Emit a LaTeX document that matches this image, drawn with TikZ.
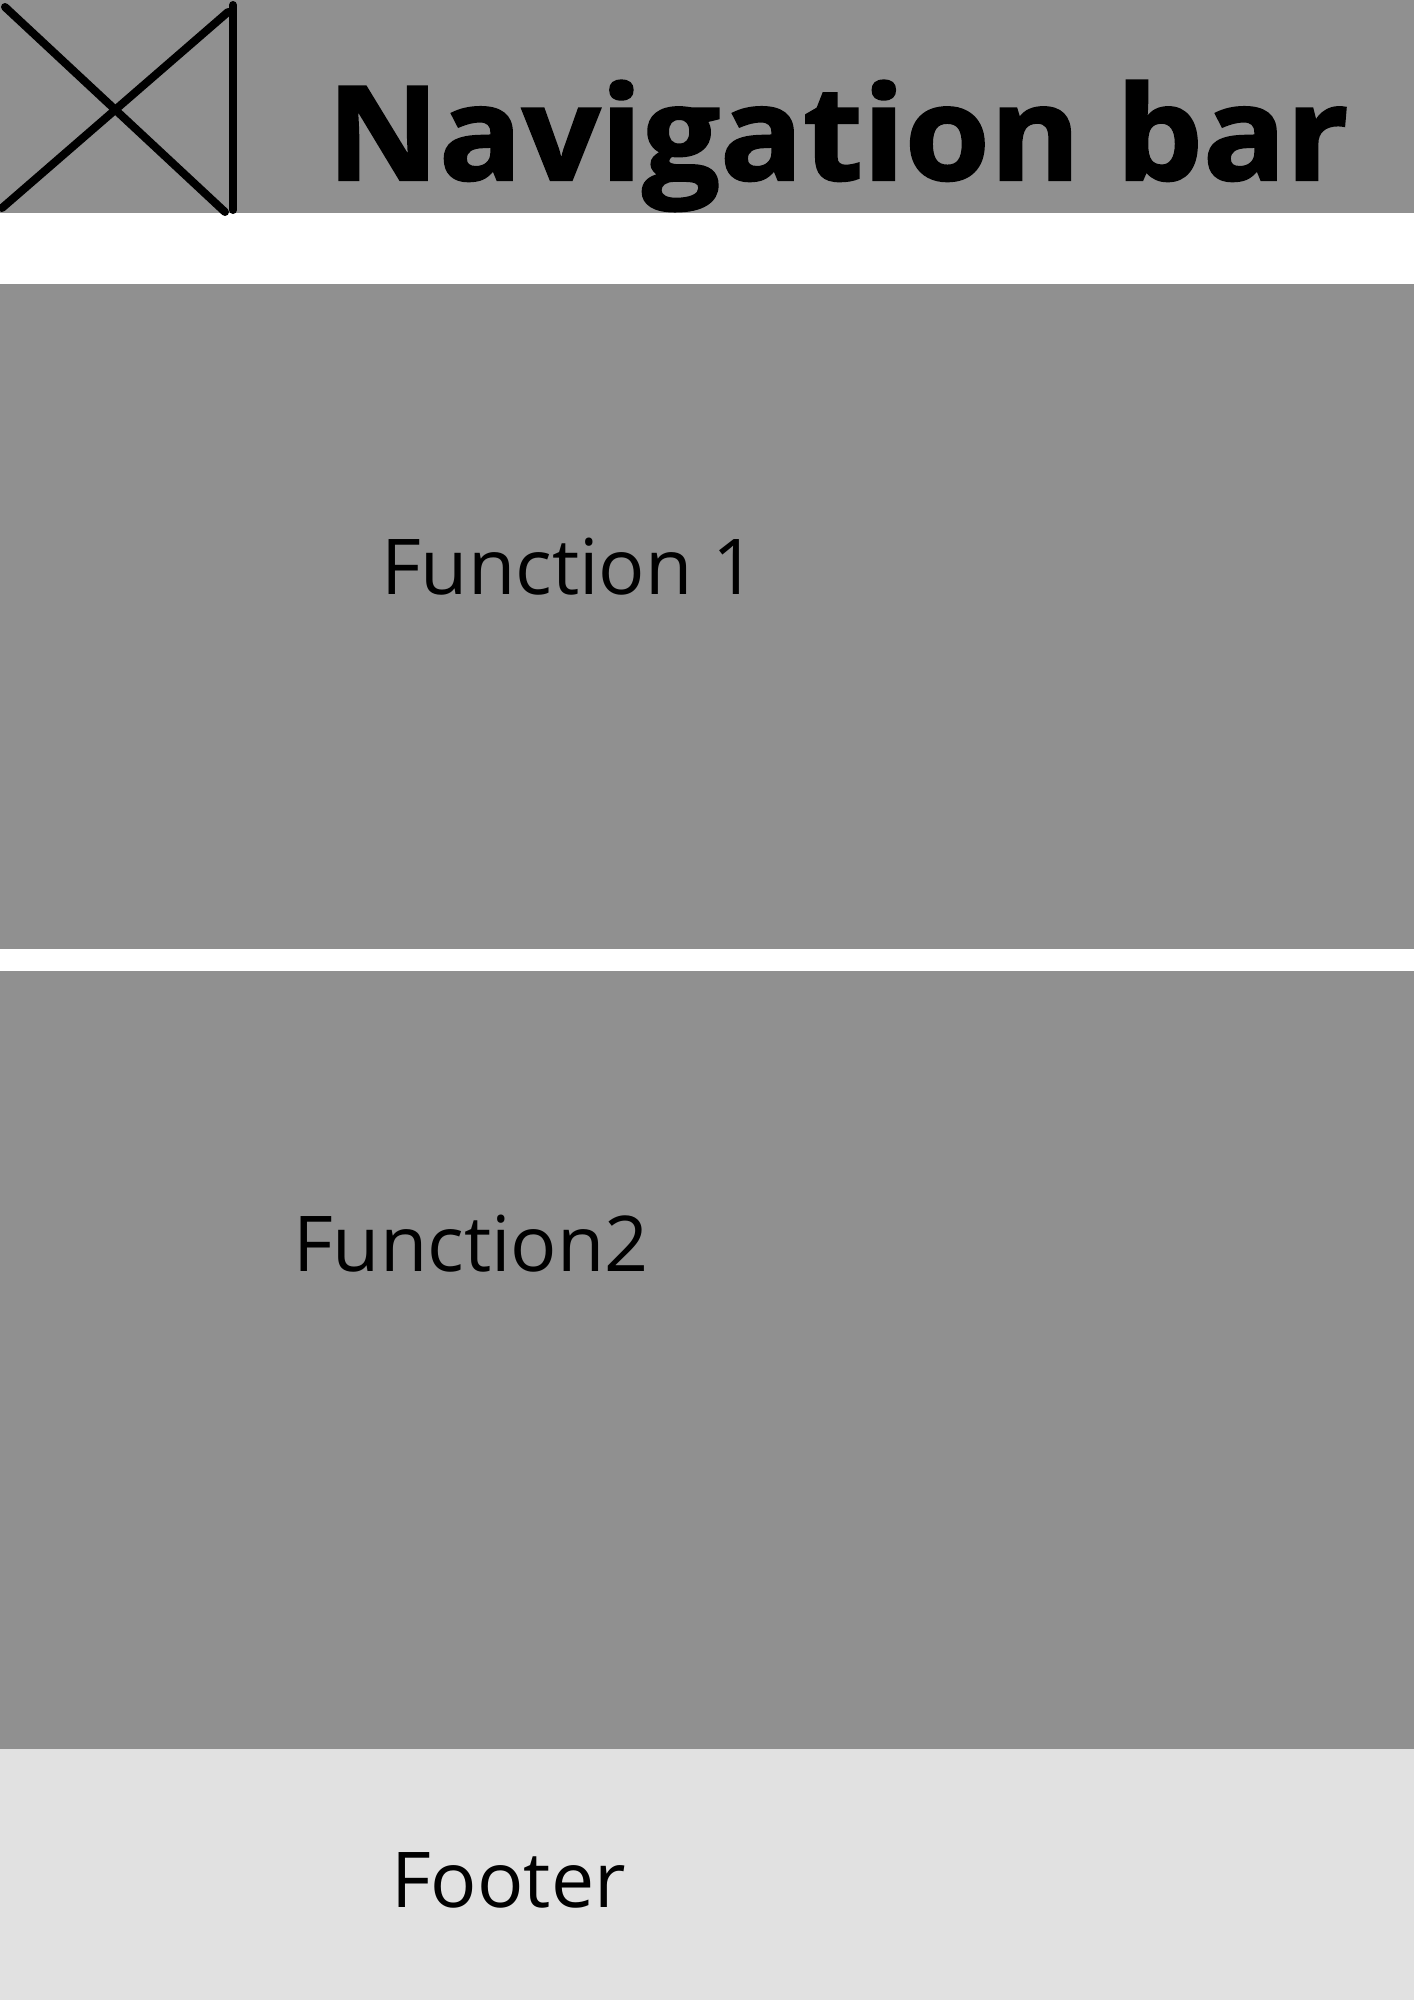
\documentclass[tikz,border=0pt]{standalone}
\usepackage{fontspec}
\setmainfont{Open Sans}
\definecolor{panel}{HTML}{909090}
\definecolor{foot}{HTML}{E1E1E1}
\begin{document}
\begin{tikzpicture}[x=1pt,y=-1pt,
  panelbox/.style={fill=panel, inner sep=0pt, anchor=north west, minimum width=1414pt},
  footbox/.style={fill=foot, inner sep=0pt, anchor=north west, minimum width=1414pt},
  iconline/.style={line width=8pt, line cap=round, black},
  title/.style={inner sep=0pt, anchor=base west, font=\fontsize{131}{140}\selectfont\bfseries\addfontfeature{FakeBold=1.6}},
  label/.style={inner sep=0pt, anchor=base west, font=\fontsize{77}{84}\selectfont}]
\useasboundingbox (0,0) rectangle (1414,2000);
\fill[white] (0,0) rectangle (1414,2000);
\node[panelbox, minimum height=213pt] (nav) at (0,0) {};
\node[panelbox, minimum height=665pt] (f1) at (0,284) {};
\node[panelbox, minimum height=778pt] (f2) at (0,971) {};
\node[footbox, minimum height=251pt] (foot) at (0,1749) {};
% image placeholder icon
\draw[iconline] (5,7) -- (225,212);
\draw[iconline] (2,208) -- (228,12);
\draw[iconline] (233,5) -- (233,210);
\node[title] (navt) at (327,180) {\scalebox{1.05}[1]{Navigation bar}};
\node[label] (f1t) at (381,594) {Function 1};
\node[label] (f2t) at (293,1271) {Function2};
\node[label] (foott) at (391,1907) {Footer};
\end{tikzpicture}
\end{document}
